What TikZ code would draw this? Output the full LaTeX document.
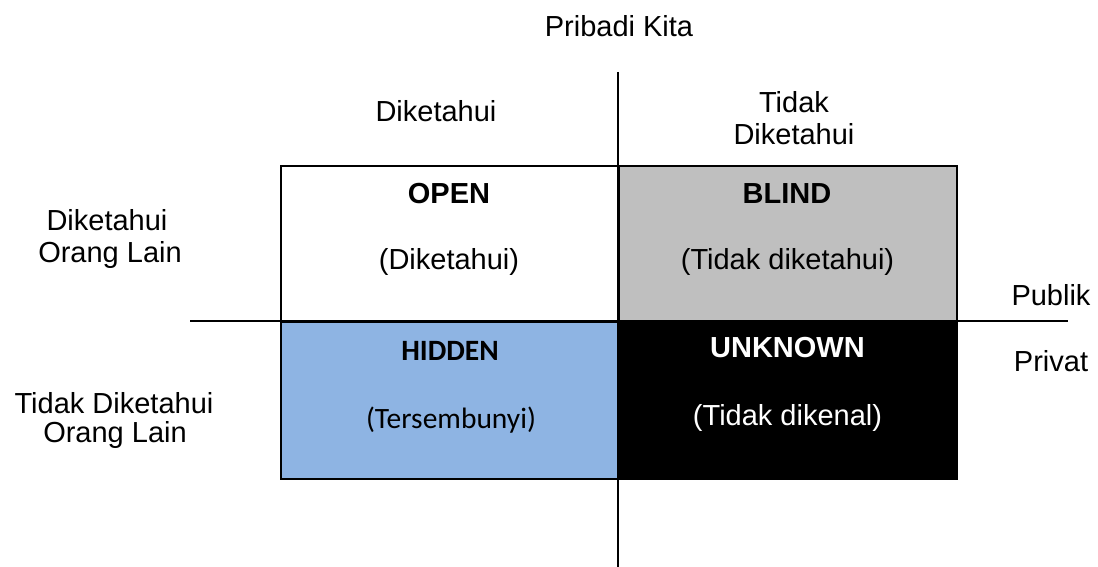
\documentclass[tikz,border=0pt]{standalone}
\usepackage{fontspec}
\setmainfont{Liberation Sans}
\newfontfamily\calibrifont{Carlito}
\definecolor{blindgray}{HTML}{BFBFBF}
\definecolor{hiddenblue}{HTML}{8EB4E3}
\tikzset{
  quad/.style={draw=black, line width=1.8pt, minimum width=338pt, minimum height=157pt, inner sep=0pt, anchor=north west},
  lbl/.style={anchor=base, inner sep=0pt, font=\fontsize{29}{34}\selectfont},
  boldlbl/.style={lbl, font=\fontsize{29}{34}\selectfont\bfseries},
  axisline/.style={line width=2pt, black}
}
\begin{document}
\begin{tikzpicture}[x=1pt, y=-1pt]
\useasboundingbox (0,0) rectangle (1098,567);
% quadrants
\node[quad, fill=white] (open) at (280,165) {};
\node[quad, fill=blindgray] (blind) at (618,165) {};
\node[quad, fill=hiddenblue] (hidden) at (280,321) {};
\node[quad, fill=black] (unknown) at (618,321) {};
% axes
\coordinate (vtop) at (618,72);
\coordinate (vbot) at (618,567);
\coordinate (hleft) at (190,321);
\coordinate (hright) at (1068,321);
\draw[axisline] (vtop) -- (vbot);
\draw[axisline] (hleft) -- (hright);
% quadrant texts
\node[boldlbl] (openT) at (449,203) {OPEN};
\node[lbl] (openS) at (449,269) {(Diketahui)};
\node[boldlbl] (blindT) at (787,203) {BLIND};
\node[lbl] (blindS) at (787.5,269) {(Tidak diketahui)};
\node[lbl, font=\calibrifont\fontsize{29.5}{34}\selectfont\bfseries] (hiddenT) at (450,360) {HIDDEN};
\node[lbl, font=\calibrifont\fontsize{29.5}{34}\selectfont] (hiddenS) at (451,428) {(Tersembunyi)};
\node[boldlbl, text=white] (unknownT) at (787.5,357) {UNKNOWN};
\node[lbl, text=white] (unknownS) at (787.5,425) {(Tidak dikenal)};
% outer labels
\node[lbl] (pribadi) at (619,37) {Pribadi Kita};
\node[lbl] (dik) at (436,122) {Diketahui};
\node[lbl] (tdk1) at (794,113) {Tidak};
\node[lbl] (tdk2) at (794,145) {Diketahui};
\node[lbl] (dol1) at (107,230) {Diketahui};
\node[lbl] (dol2) at (110,262) {Orang Lain};
\node[lbl] (tdol1) at (114,413) {Tidak Diketahui};
\node[lbl] (tdol2) at (115,442) {Orang Lain};
\node[lbl] (publik) at (1051,305) {Publik};
\node[lbl] (privat) at (1051,371) {Privat};
\end{tikzpicture}
\end{document}
